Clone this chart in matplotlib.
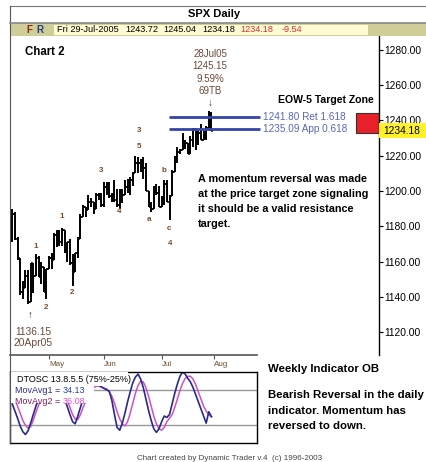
import matplotlib
matplotlib.use('Agg')
from matplotlib import pyplot as plt
from matplotlib.patches import Rectangle
import matplotlib.transforms as mtransforms

# SPX daily bars, 12-Apr-2005 .. 29-Jul-2005 (trading day index 0..76)
opens = [1181, 1187, 1173, 1162, 1143, 1145, 1152, 1137, 1159, 1152, 1162, 1151, 1157, 1143,
         1156, 1162, 1161, 1175, 1172, 1171, 1178, 1166, 1171, 1159, 1154, 1165, 1173, 1185,
         1191, 1189, 1194, 1194, 1190, 1198, 1198,
         1192, 1202, 1204, 1197, 1198, 1195, 1192, 1200, 1198, 1202, 1203, 1206, 1210, 1216,
         1216, 1214, 1213, 1200, 1191, 1190, 1201, 1199,
         1191, 1194, 1204, 1194, 1197, 1211, 1219, 1222, 1223, 1226, 1227, 1221, 1229, 1235,
         1227, 1233, 1229, 1231, 1236, 1243.72]
highs = [1190, 1188, 1174, 1162, 1149, 1155, 1155, 1159, 1159, 1164, 1163, 1160, 1157, 1156,
         1163, 1165, 1176, 1178, 1178, 1179, 1178, 1171, 1173, 1164, 1165, 1174, 1187, 1192,
         1191, 1198, 1196, 1194, 1199, 1199, 1199,
         1205, 1205, 1205, 1199, 1206, 1201, 1201, 1201, 1206, 1207, 1208, 1211, 1220, 1219,
         1218, 1219, 1216, 1200, 1194, 1203, 1204, 1203,
         1197, 1206, 1206, 1198, 1212, 1220, 1225, 1224, 1233, 1229, 1227, 1231, 1236, 1235,
         1234, 1238, 1234, 1237, 1245.15, 1245.04]
lows = [1171, 1172, 1161, 1141, 1139, 1145, 1136.15, 1137, 1142, 1152, 1151, 1147, 1143, 1139,
        1156, 1156, 1161, 1168, 1169, 1169, 1165, 1160, 1158, 1146, 1154, 1162, 1173, 1185,
        1185, 1189, 1191, 1187, 1190, 1195, 1191,
        1191, 1198, 1196, 1194, 1194, 1191, 1190, 1193, 1198, 1199, 1198, 1203, 1210, 1210,
        1211, 1207, 1200, 1191, 1188, 1190, 1198, 1191,
        1191, 1192, 1194, 1183.5, 1197, 1211, 1216, 1221, 1223, 1224, 1221, 1221, 1225, 1223,
        1226, 1229, 1229, 1229, 1236, 1234.18]
closes = [1187, 1173, 1162, 1143, 1145, 1152, 1137, 1159, 1152, 1162, 1151, 1157, 1143, 1156,
          1162, 1161, 1175, 1172, 1171, 1178, 1166, 1171, 1159, 1154, 1165, 1173, 1185, 1191,
          1189, 1194, 1194, 1190, 1198, 1198, 1192,
          1202, 1204, 1197, 1198, 1195, 1192, 1200, 1198, 1202, 1203, 1206, 1210, 1216, 1216,
          1214, 1213, 1200, 1191, 1190, 1201, 1199, 1191,
          1194, 1204, 1194, 1197, 1211, 1219, 1222, 1223, 1226, 1227, 1221, 1229, 1235, 1227,
          1233, 1229, 1231, 1236, 1243.7, 1234.18]

month_idx = [14, 35, 57, 77]
month_lbl = ['May', 'Jun', 'Jul', 'Aug']
price_ticks = [1120, 1140, 1160, 1180, 1200, 1220, 1240, 1260, 1280]

ret_level = 1241.80
app_level = 1235.09

# DTOSC fast / slow
dt_fast = [55, 45, 35, 24, 16, 12, 17, 28, 40, 52, 62, 70, 76, 80, 83, 86, 88, 86, 80, 72,
           62, 51, 40, 30, 27, 38, 50, 62, 72, 80, 86, 88, 86, 82, 79, 77, 75, 73, 60, 40,
           22, 18, 28, 42, 58, 72, 85, 93, 97, 90, 78, 62, 46, 32, 20, 15, 20, 30, 38, 36,
           40, 55, 70, 83, 94, 100, 97, 91, 86, 78, 68, 58, 48, 38, 28, 44, 37]
dt_slow = [70, 62, 52, 42, 32, 25, 21, 23, 32, 43, 53, 62, 70, 76, 80, 83, 85, 85, 82, 77,
           70, 60, 50, 40, 34, 33, 40, 50, 58, 66, 73, 78, 80, 80, 79, 77, 76, 72, 66, 56,
           44, 34, 27, 24, 30, 42, 56, 70, 81, 87, 86, 78, 66, 52, 38, 27, 20, 18, 22, 30,
           35, 40, 50, 62, 74, 84, 91, 94, 94, 90, 82, 72, 62, 52, 45, 40, 37]

# wave counts (bar index, price, label)
wave_x = [9.0, 12.9, 19.0, 22.8, 33.9, 40.7, 48.4, 48.4, 52.2, 57.9, 59.8, 60.2]
wave_y = [1168.3, 1133.7, 1185.3, 1142.7, 1211.4, 1188.1, 1234.1, 1225.0, 1184.1, 1211.9, 1179.0, 1170.5]
wave_t = ['1', '2', '1', '2', '3', '4', '3', '5', 'a', 'b', 'c', '4']

W, H = 427, 462
BOLD = ['Liberation Sans Narrow', 'Liberation Sans', 'DejaVu Sans']
plt.rcParams['font.family'] = ['Liberation Sans', 'DejaVu Sans']


def fx(x):
    return x / W


def fy(y):
    return 1 - y / H


fig = plt.figure(figsize=(W / 100, H / 100), dpi=100)
fig.patch.set_facecolor('white')

# frame + title + info bar
fig.add_artist(plt.Line2D([fx(10), 1], [fy(6), fy(6)], color='#777777', lw=0.8))
fig.add_artist(plt.Line2D([fx(10), fx(10)], [fy(6), fy(443)], color='#555555', lw=0.8))
fig.text(fx(214), fy(14), 'SPX Daily', ha='center', va='center', fontsize=8, weight='bold',
         family=BOLD)
fig.add_artist(Rectangle((fx(10), fy(36)), 1 - fx(10), fy(23) - fy(36), transform=fig.transFigure,
                         fc='#cfcd98', ec='none'))
fig.add_artist(plt.Line2D([fx(10), 1], [fy(23), fy(23)], color='#888888', lw=1.2))
fig.add_artist(Rectangle((fx(54), fy(35)), fx(368) - fx(54), fy(25) - fy(35), transform=fig.transFigure,
                         fc='#fffbd2', ec='none'))
fig.text(fx(26), fy(30), 'F', color='#8b2a10', fontsize=7, weight='bold', va='center')
fig.text(fx(36), fy(30), 'R', color='#2a3a80', fontsize=7, weight='bold', va='center')
fig.text(fx(57), fy(30), 'Fri 29-Jul-2005', fontsize=6.6, va='center')
for xp, s, c in [(125, '%.2f' % opens[-1], 'black'), (163, '%.2f' % highs[-1], 'black'),
                 (202, '%.2f' % lows[-1], 'black'), (240, '%.2f' % closes[-1], '#e03030'),
                 (282, '%.2f' % (closes[-1] - closes[-2] - 0.02), '#e03030')]:
    fig.text(fx(xp), fy(30), s, fontsize=6.6, va='center', color=c)

# main price panel
ax = fig.add_axes([fx(10), fy(355), fx(379) - fx(10), fy(36) - fy(355)])
x0 = -0.88
x1 = 139.96
ax.set_xlim(x0, x1)
ax.set_ylim(1107.0, 1287.9)
for s in ['top', 'left']:
    ax.spines[s].set_visible(False)
ax.spines['right'].set_linewidth(1.0)
ax.spines['bottom'].set_bounds(x0, 93.4)
ax.spines['bottom'].set_color('#555555')
ax.spines['bottom'].set_linewidth(1.2)

idx = list(range(len(closes)))
ax.vlines(idx, lows, highs, color='black', lw=1.4)
ax.hlines(opens, [i - 0.6 for i in idx], idx, color='black', lw=1.1)
ax.hlines(closes, idx, [i + 0.6 for i in idx], color='black', lw=1.1)

ax.yaxis.tick_right()
ax.set_yticks(price_ticks)
ax.set_yticklabels(['%.2f' % v for v in price_ticks])
ax.tick_params(axis='y', direction='out', length=3, pad=1, labelsize=7.4)
ax.set_xticks(month_idx)
ax.set_xticklabels(month_lbl)
ax.tick_params(axis='x', direction='out', length=3, pad=1, labelsize=5.8, labelcolor='#6b5030',
               color='#555555')
for lab in ax.get_xticklabels():
    lab.set_ha('left')

# target zone lines
ax.hlines([ret_level, app_level], 59.9, 94.5, color='#3344a8', lw=2.0)
ax.text(95.5, ret_level, '%.2f Ret 1.618' % ret_level, color='#5a66c0', fontsize=7.2, va='center')
ax.text(95.5, app_level, '%.2f App 0.618' % app_level, color='#5a66c0', fontsize=7.2, va='center')
ax.text(138.1, 1251.8, 'EOW-5 Target Zone', ha='right', va='center', fontsize=7.6, weight='bold',
        family=BOLD)
ax.add_patch(Rectangle((131.2, 1232.9), x1 - 131.2, 11.4, fc='#e8202a', ec='#333333', lw=0.8))

# last price label
tr = mtransforms.blended_transform_factory(ax.transAxes, ax.transData)
ax.add_patch(Rectangle((1.0, closes[-1] - 4.2), 0.135, 8.4, transform=tr, fc='#fff22a', ec='none',
                       clip_on=False, zorder=5))
ax.text(1.012, closes[-1], '%.2f' % closes[-1], transform=tr, fontsize=7.4, va='center', zorder=6)

# annotations
ann_c = '#6b4a38'
ax.text(75.5, 1280.6, '28Jul05\n%.2f\n9.59%%\n69TB' % highs[-2], ha='center', va='top', fontsize=7,
        color=ann_c, linespacing=1.3)
ax.text(75.4, 1250.0, '↓', ha='center', va='center', fontsize=7, color='#333333')
ax.text(6.8, 1129.5, '↑', ha='center', va='center', fontsize=7, color='#333333')
ax.text(7.9, 1123.0, '%.2f\n20Apr05' % lows[6], ha='center', va='top', fontsize=7.4, color=ann_c,
        linespacing=1.2)
for wx, wy, wt in zip(wave_x, wave_y, wave_t):
    ax.text(wx, wy, wt, ha='center', va='center', fontsize=5.8, color='#7a4a28', weight='bold')

ax.text(71.0, 1209.8, 'A momentum reversal was made\nat the price target zone signaling\n'
        'it should be a valid resistance\ntarget.', ha='left', va='top', fontsize=7.8,
        weight='bold', family=BOLD, linespacing=1.62)

fig.text(fx(25), fy(52), 'Chart 2', fontsize=8.3, weight='bold', va='center', family=BOLD)

# oscillator panel
ox = fig.add_axes([fx(10), fy(443), fx(257) - fx(10), fy(372) - fy(443)])
ox.set_xlim(x0, 93.4)
ox.set_ylim(0, 100)
ox.set_xticks([])
ox.set_yticks([])
for s in ox.spines.values():
    s.set_linewidth(1.0)
ox.axhline(75, color='#999999', lw=1.0)
ox.axhline(25, color='#999999', lw=1.0)
ox.plot(idx, dt_slow, color='#d050c8', lw=1.1)
ox.plot(idx, dt_fast, color='#2a2a8a', lw=1.2)
ox.add_patch(Rectangle((x0, 56), 31.0 - x0, 44, fc='white', ec='none', zorder=3))
ox.add_patch(Rectangle((x0, 80), 44.0 - x0, 20, fc='white', ec='none', zorder=3))
ox.text(1.8, 89, 'DTOSC 13.8.5.5 (75%-25%)', fontsize=6.5, va='center', zorder=4)
ox.text(1.2, 74, 'MovAvg1 =', fontsize=6.5, va='center', color='#2a2a8a', zorder=4)
ox.text(19.4, 74, '34.13', fontsize=6.5, va='center', color='#3040c0', zorder=4)
ox.text(1.2, 59, 'MovAvg2 =', fontsize=6.5, va='center', color='#802060', zorder=4)
ox.text(19.4, 59, '36.08', fontsize=6.5, va='center', color='#e050d0', zorder=4)

fig.text(fx(268), fy(369), 'Weekly Indicator OB', fontsize=8.2, weight='bold', va='center', family=BOLD)
fig.text(fx(268), fy(390), 'Bearish Reversal in the daily\nindicator. Momentum has\nreversed to down.',
         fontsize=8.2, weight='bold', va='top', family=BOLD, linespacing=1.7)
fig.text(fx(230), fy(459), 'Chart created by Dynamic Trader v.4  (c) 1996-2003', ha='center', va='center',
         fontsize=5.8, color='#444444')

fig.savefig('out.png', dpi=100)
